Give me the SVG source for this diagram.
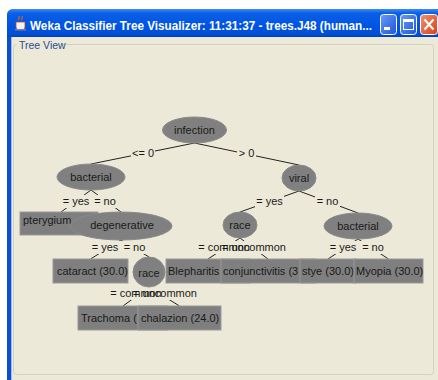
<svg xmlns="http://www.w3.org/2000/svg" width="438" height="380" viewBox="0 0 438 380">
<defs>
<linearGradient id="tb" x1="0" y1="0" x2="0" y2="1">
<stop offset="0" stop-color="#3d8cf5"/>
<stop offset="0.15" stop-color="#0a5fe6"/>
<stop offset="0.6" stop-color="#0054e3"/>
<stop offset="0.9" stop-color="#004fd6"/>
<stop offset="1" stop-color="#0041b8"/>
</linearGradient>
<linearGradient id="btn" x1="0" y1="0" x2="1" y2="1">
<stop offset="0" stop-color="#6a9cf6"/>
<stop offset="1" stop-color="#1d55d8"/>
</linearGradient>
<linearGradient id="cls" x1="0" y1="0" x2="1" y2="1">
<stop offset="0" stop-color="#f0926d"/>
<stop offset="1" stop-color="#d8401a"/>
</linearGradient>
<style>
.node{fill:#808080;stroke:#8a8a8a;stroke-width:1}
.box{fill:#7f7f7f;stroke:#9a9a9a;stroke-width:1}
.nt{font-family:"Liberation Sans",Arial,sans-serif;font-size:11px;fill:#1a1a1a}
.c{text-anchor:middle}
.edge{stroke:#222;stroke-width:1;fill:none}
.lbg{fill:#ece9d8}
.lt{font-family:"Liberation Sans",Arial,sans-serif;font-size:11px;fill:#1a1a1a;text-anchor:middle}
</style>
</defs>
<rect x="0" y="0" width="438" height="380" fill="#ffffff"/>
<g id="window">
<path d="M7,380 V16 Q7,9 14,9 H438 V380 Z" fill="#0a4fd0"/>
<path d="M7,37 V16 Q7,9 14,9 H438 V37 Z" fill="url(#tb)"/>
<rect x="11" y="37" width="427" height="343" fill="#ece9d8"/>
<line x1="11.5" y1="37" x2="11.5" y2="380" stroke="#9cb8ee" stroke-width="1"/>
<g id="icon">
<path d="M16,22 h9 v5 q0,3 -4.5,3 q-4.5,0 -4.5,-3 Z" fill="#f4f4f4" stroke="#c04a10" stroke-width="0.8"/>
<path d="M18,20 q2,-2 1,-4 M21,20 q2,-2 1,-4" stroke="#e36a10" stroke-width="1" fill="none"/>
<rect x="15" y="29" width="11" height="1.5" fill="#6a7fbf"/>
</g>
<text x="30" y="30" font-family="'Liberation Sans',Arial,sans-serif" font-size="13" font-weight="bold" fill="#ffffff" textLength="342" lengthAdjust="spacingAndGlyphs">Weka Classifier Tree Visualizer: 11:31:37 - trees.J48 (human...</text>
<g id="buttons">
<rect x="380.5" y="14.5" width="16" height="20" rx="3" fill="url(#btn)" stroke="#ffffff" stroke-width="1"/>
<rect x="384" y="27" width="6" height="3" fill="#ffffff"/>
<rect x="400.5" y="14.5" width="16" height="20" rx="3" fill="url(#btn)" stroke="#ffffff" stroke-width="1"/>
<rect x="403.5" y="19.5" width="10" height="10" fill="none" stroke="#ffffff" stroke-width="1"/>
<rect x="403.5" y="19.5" width="10" height="2.5" fill="#ffffff"/>
<rect x="420.5" y="14.5" width="17" height="20" rx="3" fill="url(#cls)" stroke="#ffffff" stroke-width="1"/>
<path d="M424.5,19.5 L433.5,29.5 M433.5,19.5 L424.5,29.5" stroke="#ffffff" stroke-width="2"/>
</g>
<rect x="13.5" y="44.5" width="420" height="330" rx="3" fill="none" stroke="#d3d0bf" stroke-width="1"/>
<rect x="17" y="40" width="46" height="10" fill="#ece9d8"/>
<text x="19" y="49" font-family="'Liberation Sans',Arial,sans-serif" font-size="10.5" fill="#2c4a96">Tree View</text>
</g>
<g id="connectors">
<line class="edge" x1="194.5" y1="143" x2="91" y2="164"/>
<line class="edge" x1="194.5" y1="143" x2="299" y2="165"/>
<line class="edge" x1="91" y1="190" x2="61" y2="212"/>
<line class="edge" x1="91" y1="190" x2="121" y2="212"/>
<line class="edge" x1="299" y1="191" x2="240" y2="212"/>
<line class="edge" x1="299" y1="191" x2="358" y2="213"/>
<line class="edge" x1="121" y1="240" x2="90.5" y2="259"/>
<line class="edge" x1="121" y1="240" x2="149" y2="257"/>
<line class="edge" x1="240" y1="238" x2="208" y2="259"/>
<line class="edge" x1="240" y1="238" x2="268" y2="259"/>
<line class="edge" x1="358" y1="239" x2="328" y2="259"/>
<line class="edge" x1="358" y1="239" x2="388.5" y2="259"/>
<line class="edge" x1="149" y1="287" x2="123" y2="306"/>
<line class="edge" x1="149" y1="287" x2="179.5" y2="306"/>
<g id="label-bg">
<rect class="lbg" x="131" y="147" width="24" height="13"/>
<rect class="lbg" x="237" y="147" width="19" height="13"/>
<rect class="lbg" x="62" y="195" width="28" height="13"/>
<rect class="lbg" x="92" y="195" width="26" height="13"/>
<rect class="lbg" x="255" y="195" width="29" height="13"/>
<rect class="lbg" x="315" y="195" width="25" height="13"/>
<rect class="lbg" x="91" y="241" width="29" height="13"/>
<rect class="lbg" x="122" y="241" width="25" height="13"/>
<rect class="lbg" x="197" y="241" width="92" height="13"/>
<rect class="lbg" x="329" y="241" width="56" height="13"/>
<rect class="lbg" x="108" y="287" width="91" height="13"/>
</g>
<g id="labels">
<text class="lt" x="143" y="157">&lt;= 0</text>
<text class="lt" x="246.5" y="157">&gt; 0</text>
<text class="lt" x="76" y="205">= yes</text>
<text class="lt" x="105" y="205">= no</text>
<text class="lt" x="269.5" y="205">= yes</text>
<text class="lt" x="327.5" y="205">= no</text>
<text class="lt" x="105" y="251">= yes</text>
<text class="lt" x="134.5" y="251">= no</text>
<text class="lt" x="224" y="251">= common</text>
<text class="lt" x="254" y="251">= uncommon</text>
<text class="lt" x="343" y="251">= yes</text>
<text class="lt" x="373" y="251">= no</text>
<text class="lt" x="136" y="297">= common</text>
<text class="lt" x="165" y="297">= uncommon</text>
</g>
</g>
<g id="n-infection"><ellipse class="node" cx="194.5" cy="130" rx="32" ry="13"/><text class="nt c" x="194.5" y="134">infection</text></g>
<g id="n-bacterial1"><ellipse class="node" cx="91" cy="177" rx="34" ry="13"/><text class="nt c" x="91" y="181">bacterial</text></g>
<g id="n-viral"><ellipse class="node" cx="299" cy="178" rx="17" ry="13"/><text class="nt c" x="299" y="182">viral</text></g>
<g id="n-pterygium"><rect class="box" x="20" y="212" width="78" height="23"/><text class="nt" x="23" y="224">pterygium</text></g>
<g id="n-degenerative"><ellipse class="node" cx="121" cy="226" rx="51" ry="14"/><text class="nt c" x="122" y="229">degenerative</text></g>
<g id="n-race1"><ellipse class="node" cx="240" cy="225" rx="17" ry="13"/><text class="nt c" x="240" y="229">race</text></g>
<g id="n-bacterial2"><ellipse class="node" cx="358" cy="226" rx="34" ry="13"/><text class="nt c" x="358" y="230">bacterial</text></g>
<g id="n-cataract"><rect class="box" x="53" y="259" width="75" height="24"/><text class="nt" x="57" y="275">cataract (30.0)</text></g>
<g id="n-race2"><ellipse class="node" cx="149" cy="272" rx="16" ry="15"/><text class="nt c" x="149" y="277">race</text></g>
<g id="n-blepharitis"><rect class="box" x="166" y="259" width="84" height="24"/><text class="nt" x="168" y="275">Blepharitis</text></g>
<g id="n-conjunctivitis"><rect class="box" x="221" y="259" width="94" height="24"/><text class="nt" x="223" y="275">conjunctivitis (3</text></g>
<g id="n-stye"><rect class="box" x="300" y="259" width="56" height="24"/><text class="nt" x="302" y="275">stye (30.0)</text></g>
<g id="n-myopia"><rect class="box" x="354" y="259" width="69" height="24"/><text class="nt" x="356" y="275">Myopia (30.0)</text></g>
<g id="n-trachoma"><rect class="box" x="78" y="306" width="90" height="24"/><text class="nt" x="81" y="322">Trachoma (</text></g>
<g id="n-chalazion"><rect class="box" x="138" y="306" width="83" height="24"/><text class="nt" x="141" y="322">chalazion (24.0)</text></g>
</svg>
